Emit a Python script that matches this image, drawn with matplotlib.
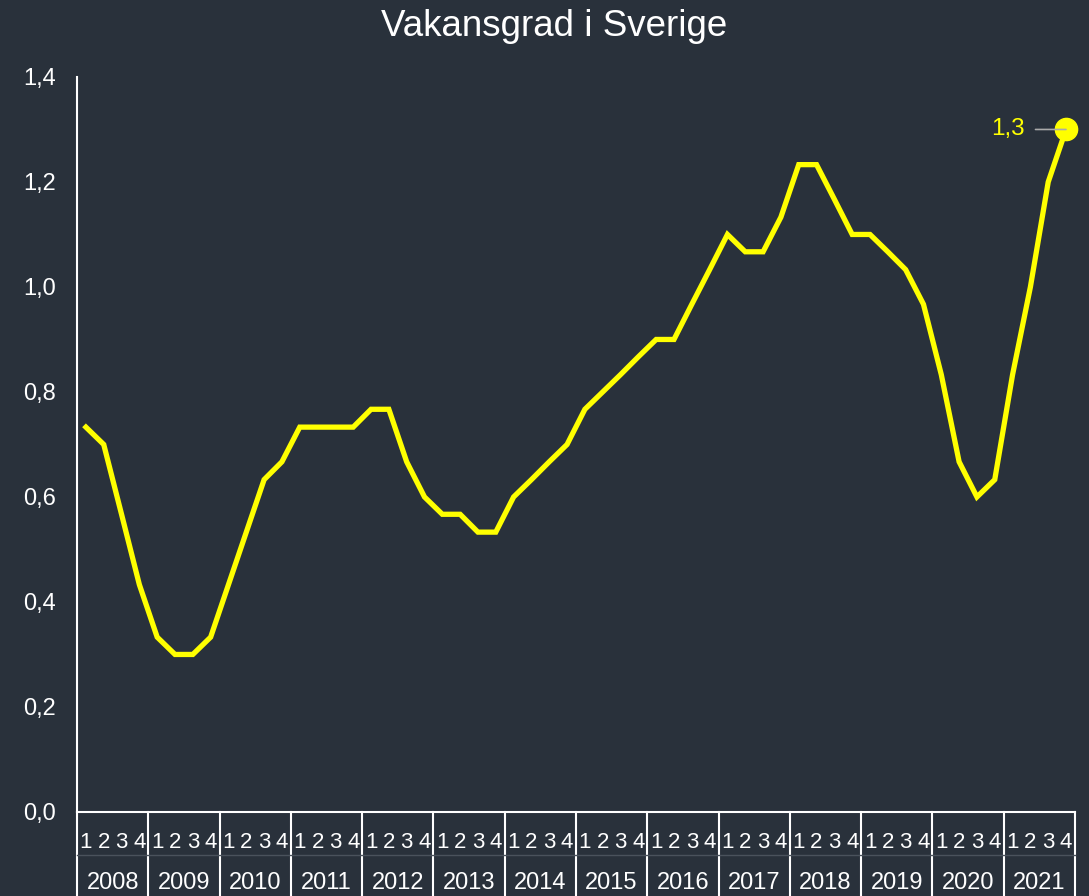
import matplotlib.pyplot as plt
import numpy as np

plt.rcParams['font.family'] = ['Liberation Sans', 'DejaVu Sans']

years = [str(y) for y in range(2008, 2022)]
quarters = ['1', '2', '3', '4']
vakansgrad = [
    0.733, 0.70, 0.567, 0.433,   # 2008
    0.333, 0.30, 0.30, 0.333,    # 2009
    0.433, 0.533, 0.633, 0.667,  # 2010
    0.733, 0.733, 0.733, 0.733,  # 2011
    0.767, 0.767, 0.667, 0.60,   # 2012
    0.567, 0.567, 0.533, 0.533,  # 2013
    0.60, 0.633, 0.667, 0.70,    # 2014
    0.767, 0.80, 0.833, 0.867,   # 2015
    0.90, 0.90, 0.967, 1.033,    # 2016
    1.10, 1.067, 1.067, 1.133,   # 2017
    1.233, 1.233, 1.167, 1.10,   # 2018
    1.10, 1.067, 1.033, 0.967,   # 2019
    0.833, 0.667, 0.60, 0.633,   # 2020
    0.833, 1.0, 1.20, 1.30,      # 2021
]
yticks = [0.0, 0.2, 0.4, 0.6, 0.8, 1.0, 1.2, 1.4]

bg = '#29313b'
fg = 'white'
yellow = '#ffff00'

fig = plt.figure(figsize=(10.89, 8.96), dpi=100, facecolor=bg)
ax = fig.add_axes([0.0707, 0.0938, 0.9164, 0.8203], facecolor=bg)

n = len(vakansgrad)
x = np.arange(n) + 0.5
ax.plot(x, vakansgrad, color=yellow, lw=3.8, solid_joinstyle='miter')
ax.plot(x[-1], vakansgrad[-1], 'o', color=yellow, ms=16, clip_on=False)
ax.annotate('1,3', xy=(x[-1], vakansgrad[-1]), xytext=(-30, 0),
            textcoords='offset points', color=yellow, fontsize=17.5,
            ha='right', va='center',
            arrowprops=dict(arrowstyle='-', color='#aaaaaa', lw=1.2,
                            shrinkA=6, shrinkB=0))

ax.set_xlim(0, n)
ax.set_ylim(0, 1.4)
ax.set_yticks(yticks)
ax.set_yticklabels([f'{v:.1f}'.replace('.', ',') for v in yticks])
ax.tick_params(axis='y', length=0, pad=15, labelsize=17, colors=fg)
ax.set_xticks([])

for s in ['top', 'right']:
    ax.spines[s].set_visible(False)
ax.spines['left'].set_color(fg)
ax.spines['bottom'].set_color(fg)
ax.spines['left'].set_linewidth(1.5)
ax.spines['bottom'].set_linewidth(1.5)

# kategoriaxel: kvartal och år
trans = ax.get_xaxis_transform()
for i in range(n):
    ax.text(x[i], -0.041, quarters[i % 4], transform=trans, color=fg,
            fontsize=16, ha='center', va='center', clip_on=False)
for j, yr in enumerate(years):
    ax.text(j * 4 + 2, -0.097, yr, transform=trans, color=fg,
            fontsize=17, ha='center', va='center', clip_on=False)
for j in range(len(years) + 1):
    ax.plot([j * 4, j * 4], [0, -0.15], transform=trans, color=fg,
            lw=1.5, clip_on=False)
ax.plot([0, n], [-0.0585, -0.0585], transform=trans, color='#4a525c',
        lw=1, clip_on=False)

fig.suptitle('Vakansgrad i Sverige', color=fg, fontsize=26.5, x=0.509, y=0.99)

plt.savefig('out.png', facecolor=bg)
